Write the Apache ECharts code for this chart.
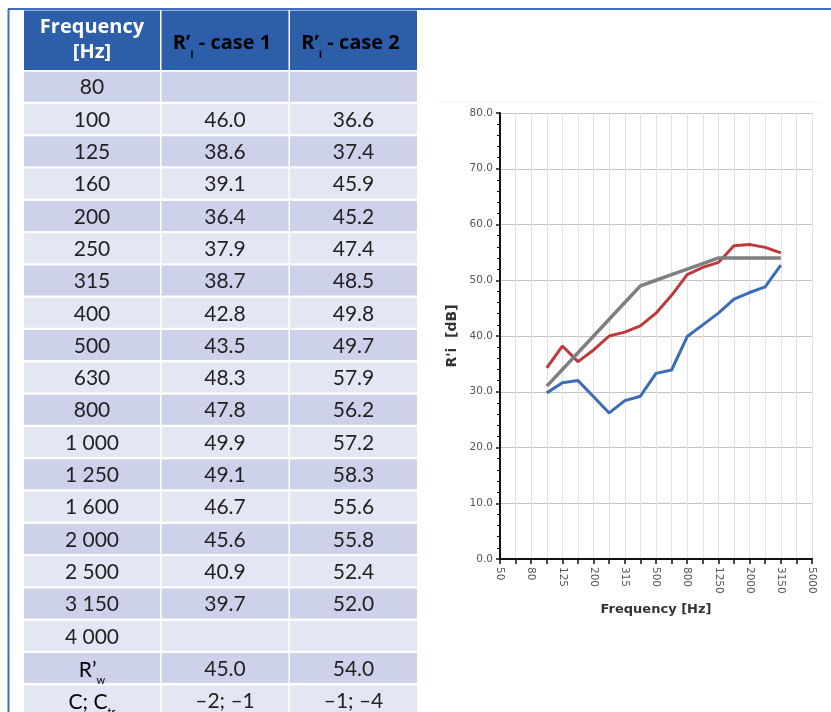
<!DOCTYPE html>
<html><head><meta charset="utf-8">
<script src="https://cdn.jsdelivr.net/npm/echarts@6/dist/echarts.min.js"></script>
<style>html,body{margin:0;padding:0;background:#fff}#c{width:831px;height:712px}</style>
</head><body><div id="c"></div>
<script>
// ---- chart data ----
const freqCats = ['50','63','80','100','125','160','200','250','315','400','500','630','800','1000','1250','1600','2000','2500','3150','4000','5000'];
const redValues  = [null,null,null,34.3,38.2,35.4,37.5,40.0,40.7,41.8,44.1,47.3,51.0,52.3,53.2,56.2,56.4,55.9,54.9,null,null];
const blueValues = [null,null,null,29.8,31.6,32.0,29.1,26.2,28.4,29.2,33.3,33.9,39.9,42.0,44.1,46.6,47.8,48.8,52.7,null,null];
const greyValues = [null,null,null,31,34,37,40,43,46,49,50,51,52,53,54,54,54,54,54,null,null];
const yMin = 0, yMax = 80, yStep = 10;

// ---- table data ----
const tableFreq = ['80','100','125','160','200','250','315','400','500','630','800','1 000','1 250','1 600','2 000','2 500','3 150','4 000'];
const case1 = ['','46.0','38.6','39.1','36.4','37.9','38.7','42.8','43.5','48.3','47.8','49.9','49.1','46.7','45.6','40.9','39.7',''];
const case2 = ['','36.6','37.4','45.9','45.2','47.4','48.5','49.8','49.7','57.9','56.2','57.2','58.3','55.6','55.8','52.4','52.0',''];
const rwRow = ['45.0','54.0'];
const cRow = ['–2; –1','–1; –4'];

const FONT = 'Lato';
const HFONT = 'Open Sans';
const colX = [24, 161.5, 290];
const colW = [136, 127, 127];
const rowTop0 = 71.7, rowPitch = 32.3, rowH = 30;
const darkFill = '#cdd2ea', lightFill = '#e3e7f3', headFill = '#2c5ea9', txtCol = '#231f20';

const graphic = [];
// frame lines
graphic.push({type:'line', shape:{x1:8,y1:9,x2:831,y2:9}, style:{stroke:'#3f6fbf', lineWidth:2}, z:10});
graphic.push({type:'line', shape:{x1:8.5,y1:9,x2:8.5,y2:712}, style:{stroke:'#3f6fbf', lineWidth:2}, z:10});
// header
for (let c=0;c<3;c++){
  graphic.push({type:'rect', shape:{x:colX[c], y:10.5, width:colW[c], height:59.5}, style:{fill:headFill}, z:1});
}
graphic.push({type:'text', x:colX[0]+colW[0]/2, y:40, z:5, style:{text:'Frequency\n[Hz]', fill:'#fff', font:'bold 20px '+HFONT, align:'center', verticalAlign:'middle', lineHeight:25}});
const subRich = {
  a:{fontSize:20, fontWeight:'bold', fontFamily:HFONT, color:'#fff', lineHeight:34},
  s:{fontSize:11, fontWeight:'bold', fontFamily:HFONT, color:'#fff', lineHeight:12, verticalAlign:'bottom'}
};
['1','2'].forEach((n,i)=>{
  graphic.push({type:'text', x:colX[i+1]+colW[i+1]/2 - 3, y:43, z:5, style:{text:'{a|R’}{s|i}{a| - case '+n+'}', rich:subRich, align:'center', verticalAlign:'middle'}});
});
// body rows
const bodyRows = tableFreq.map((f,i)=>[f, case1[i], case2[i]]);
bodyRows.push(['{a|R’}{s|w}', rwRow[0], rwRow[1]]);
bodyRows.push(['{a|C; C}{s|tr}', cRow[0], cRow[1]]);
const rowRich = {
  a:{fontSize:21, fontFamily:FONT, color:txtCol, lineHeight:32},
  s:{fontSize:11, fontFamily:FONT, color:txtCol, lineHeight:12, verticalAlign:'bottom'}
};
bodyRows.forEach((row,k)=>{
  const top = rowTop0 + rowPitch*k;
  const fill = (k%2===0) ? darkFill : lightFill;
  for (let c=0;c<3;c++){
    graphic.push({type:'rect', shape:{x:colX[c], y:top, width:colW[c], height:rowH}, style:{fill:fill}, z:1});
    const t = row[c];
    if (t === '') continue;
    if (t.indexOf('{')===0){
      graphic.push({type:'text', x:colX[c]+colW[c]/2, y:top+rowH/2+2, z:5, style:{text:t, rich:rowRich, align:'center', verticalAlign:'middle'}});
    } else {
      graphic.push({type:'text', x:colX[c]+colW[c]/2, y:top+rowH/2+1, z:5, style:{text:t, fill:txtCol, font:'21px '+FONT, align:'center', verticalAlign:'middle'}});
    }
  }
});
// faint chart frame (top edge only is visible in the reference)
graphic.push({type:'line', shape:{x1:437, y1:102, x2:821, y2:102}, style:{stroke:'#f3f3f3', lineWidth:1}, z:0});

const chart = echarts.init(document.getElementById('c'), null, {renderer:'canvas'});
chart.setOption({
  animation:false,
  backgroundColor:'#fff',
  graphic: graphic,
  grid:{left:500, top:113, right:19, bottom:153},
  xAxis:{
    type:'category', data:freqCats, boundaryGap:false,
    name:'Frequency [Hz]', nameLocation:'middle', nameGap:44,
    nameTextStyle:{fontFamily:'DejaVu Sans', fontWeight:'bold', fontSize:13, color:'#333'},
    axisLine:{lineStyle:{color:'#111', width:2}},
    axisTick:{show:true, interval:0, length:5, lineStyle:{color:'#111', width:1.5}},
    axisLabel:{interval:1, rotate:-90, fontSize:10.5, color:'#555', fontFamily:'DejaVu Sans', margin:8},
    splitLine:{show:true, interval:0, lineStyle:{color:'#e2e2e2', width:1}}
  },
  yAxis:{
    type:'value', min:yMin, max:yMax, interval:yStep,
    name:"R'i  [dB]", nameLocation:'middle', nameGap:41, nameRotate:90,
    nameTextStyle:{fontFamily:'DejaVu Sans', fontWeight:'bold', fontSize:14, color:'#333'},
    axisLine:{show:true, lineStyle:{color:'#111', width:2}},
    axisTick:{show:true, length:4, lineStyle:{color:'#111', width:1.5}},
    minorTick:{show:true, splitNumber:5, length:3, lineStyle:{color:'#111', width:1}},
    axisLabel:{formatter:v=>v.toFixed(1), fontSize:10.5, color:'#555', fontFamily:'DejaVu Sans', margin:7},
    splitLine:{show:true, lineStyle:{color:'#c4c4c4', width:1}}
  },
  series:[
    {type:'line', data:blueValues, symbol:'none', lineStyle:{color:'#3a6cb8', width:3}, z:3},
    {type:'line', data:redValues, symbol:'none', lineStyle:{color:'#c0393a', width:3}, z:3},
    {type:'line', data:greyValues, symbol:'none', lineStyle:{color:'#7f7f7f', width:3.5}, z:4}
  ]
});
</script></body></html>
